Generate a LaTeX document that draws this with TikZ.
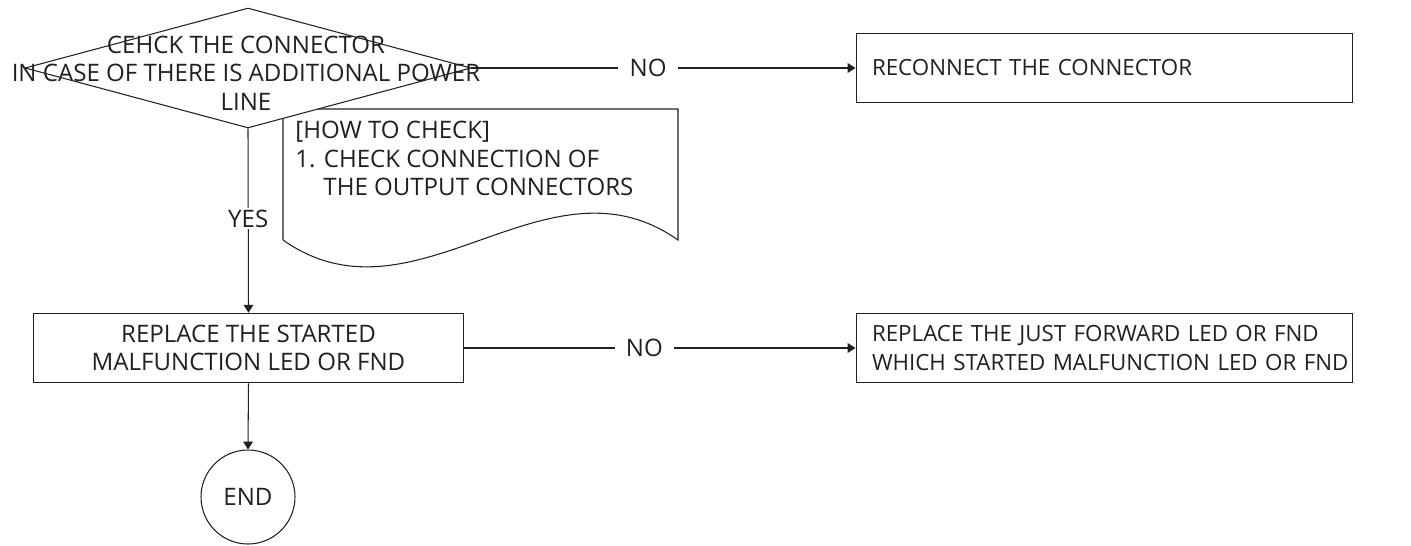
\documentclass[tikz,border=0pt]{standalone}
\usepackage{fontspec}
\setmainfont{Open Sans}
\usepackage{tikz}
\usetikzlibrary{positioning,arrows.meta,calc,shapes.geometric}
\definecolor{ink}{HTML}{231F20}
\newcommand{\chartfont}{\fontsize{13.7}{16.2}\selectfont}
\newcommand{\boxfont}{\fontsize{12.7}{17}\selectfont}
\tikzset{
  flow/.style={-{Triangle[length=4.5pt,width=5.5pt]}, line width=0.6pt, color=ink},
  blk/.style={draw=ink, fill=white, line width=0.6pt, minimum height=1.39cm,
    inner sep=0pt, text=ink, font=\chartfont},
  dec/.style={diamond, draw=ink, fill=white, line width=0.6pt,
    minimum width=8.92cm, minimum height=2.4cm, inner sep=0pt},
  term/.style={circle, draw=ink, line width=0.6pt, minimum size=1.88cm,
    inner sep=0pt, font=\chartfont, text=ink},
  lbl/.style={fill=white, inner xsep=6.5pt, inner ysep=1pt, font=\chartfont, text=ink},
  txt/.style={font=\chartfont, text=ink, inner sep=0pt},
}

\begin{document}
\begin{tikzpicture}[x=0.02cm, y=-0.02cm]
  \useasboundingbox (0,0) rectangle (1411,545);

  % note sheet, partly behind the decision
  \node[txt, align=left, anchor=north west] (howto) at (295,121)
    {[HOW TO CHECK]\\1. CHECK CONNECTION OF\\\hspace{16pt}THE OUTPUT CONNECTORS};
  \draw[line width=0.6pt, color=ink] (283,240) -- (283,109) -- (678,109) -- (678,240)
    .. controls (546,147) and (415,333) .. (283,240);

  \node[dec] (chk) at (248,68) {};
  \node[txt, align=center] (chktxt) at (246,73)
    {CEHCK THE CONNECTOR\\IN CASE OF THERE IS ADDITIONAL POWER\\LINE};

  \node[blk, font=\boxfont, minimum width=9.94cm, text width=9.3cm, align=left] (recon) at (1104.5,68)
    {RECONNECT THE CONNECTOR};
  \node[blk, minimum width=8.62cm, align=center] (repl) at (248.5,348)
    {REPLACE THE STARTED\\MALFUNCTION LED OR FND};
  \node[blk, font=\boxfont, minimum width=9.94cm, text width=9.3cm, align=left] (fwd) at (1104.5,348)
    {\mbox{REPLACE THE JUST FORWARD LED OR FND}\\\mbox{WHICH STARTED MALFUNCTION LED OR FND}};
  \node[term] (fin) at (248,497) {END};

  \draw[flow] (chk.east) -- node[lbl, pos=0.46] {NO} (recon.west);
  \draw[flow] (chk.south) -- node[lbl, pos=0.49] {YES} (repl.north);
  \draw[flow] (repl.east) -- node[lbl, pos=0.46] {NO} (fwd.west);
  \draw[flow] (repl.south) -- (fin.north);
\end{tikzpicture}
\end{document}
